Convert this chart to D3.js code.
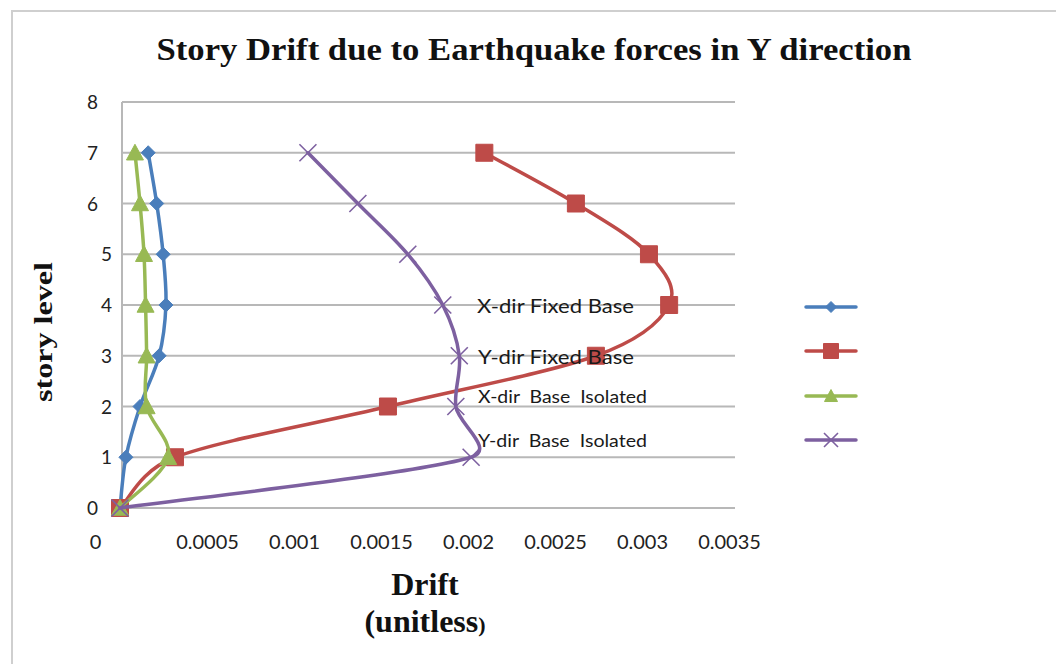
<!DOCTYPE html>
<html>
<head>
<meta charset="utf-8">
<script src="https://cdn.jsdelivr.net/npm/d3@7"></script>
<style>
  html, body { margin: 0; padding: 0; background: #fff; }
  svg { display: block; }
</style>
</head>
<body>
<svg id="chart" width="1056" height="664"></svg>
<script>
// ---- data ----
const storyLevels = [0, 1, 2, 3, 4, 5, 6, 7];
const xDirFixed    = [0, 0.000034, 0.000115, 0.000225, 0.000264, 0.000248, 0.000211, 0.000162];
const yDirFixed    = [0, 0.000316, 0.00154, 0.002735, 0.003156, 0.00304, 0.00262, 0.002094];
const xDirIsolated = [0, 0.000277, 0.000153, 0.000153, 0.000147, 0.000138, 0.000115, 0.000086];
const yDirIsolated = [0, 0.002018, 0.00193, 0.00195, 0.001855, 0.001654, 0.001367, 0.00108];
const seriesNames  = ["X-dir Fixed Base", "Y-dir Fixed Base", "X-dir  Base  Isolated", "Y-dir  Base  Isolated"];
const xTickValues  = [0, 0.0005, 0.001, 0.0015, 0.002, 0.0025, 0.003, 0.0035];
const yTickValues  = [0, 1, 2, 3, 4, 5, 6, 7, 8];
const titleText    = "Story Drift due to Earthquake forces in Y direction";

const series = [
  { name: seriesNames[0], values: xDirFixed,    color: "#4A7EBB", marker: "diamond" },
  { name: seriesNames[1], values: yDirFixed,    color: "#BE4B48", marker: "square" },
  { name: seriesNames[2], values: xDirIsolated, color: "#98B954", marker: "triangle" },
  { name: seriesNames[3], values: yDirIsolated, color: "#7D60A0", marker: "cross" }
];

// Spreadsheet-style smoothed curve: Catmull-Rom tangents with arm lengths
// limited to half of the adjacent segment.
function SmoothCurve(context) { this._context = context; }
SmoothCurve.prototype = {
  areaStart() { this._line = 0; },
  areaEnd() { this._line = NaN; },
  lineStart() { this._pts = []; },
  point(px, py) { this._pts.push([+px, +py]); },
  lineEnd() {
    const p = this._pts, n = p.length, c = this._context;
    if (!n) return;
    c.moveTo(p[0][0], p[0][1]);
    if (n === 1) return;
    const tan = p.map((pt, i) => {
      const a = p[Math.max(0, i - 1)], b = p[Math.min(n - 1, i + 1)];
      return [(b[0] - a[0]) / 6, (b[1] - a[1]) / 6];
    });
    const k = 0.5;
    const arm = (t, segLen) => {
      const L = Math.hypot(t[0], t[1]);
      const s = (L > k * segLen && L > 0) ? (k * segLen) / L : 1;
      return [t[0] * s, t[1] * s];
    };
    for (let i = 0; i < n - 1; i++) {
      const a = p[i], b = p[i + 1];
      const seg = Math.hypot(b[0] - a[0], b[1] - a[1]);
      const t1 = arm(tan[i], seg), t2 = arm(tan[i + 1], seg);
      c.bezierCurveTo(a[0] + t1[0], a[1] + t1[1], b[0] - t2[0], b[1] - t2[1], b[0], b[1]);
    }
  }
};
const curveSmooth = context => new SmoothCurve(context);

const svg = d3.select("#chart");
svg.append("rect").attr("width", 1056).attr("height", 664).attr("fill", "#fff");

// outer chart border
svg.append("path")
  .attr("d", "M12,664 V11 H1056")
  .attr("fill", "none").attr("stroke", "#cfcfcf").attr("stroke-width", 2);

const x = d3.scaleLinear().domain([0, 0.0035]).range([120, 729]);
const y = d3.scaleLinear().domain([0, 8]).range([508, 102]);
const gridLeft = 122, gridRight = 735;

// gridlines
svg.append("g").selectAll("line").data(yTickValues).join("line")
  .attr("x1", gridLeft).attr("x2", gridRight)
  .attr("y1", d => y(d)).attr("y2", d => y(d))
  .attr("stroke", "#b8b8b8").attr("stroke-width", 2);
// vertical axis line
svg.append("line")
  .attr("x1", gridLeft).attr("x2", gridLeft)
  .attr("y1", y(8)).attr("y2", y(0))
  .attr("stroke", "#b8b8b8").attr("stroke-width", 2);

// y axis labels
const yAxis = d3.axisLeft(y).tickValues(yTickValues).tickSize(0).tickFormat(d3.format("d"));
const gy = svg.append("g").call(yAxis);
gy.select(".domain").remove();
gy.selectAll("text")
  .attr("x", d => (d >= 1 && d <= 5) ? 112 : 98)
  .attr("dy", "0.35em")
  .attr("text-anchor", "end")
  .style("font-family", "Lato, 'Noto Sans', sans-serif")
  .style("font-size", "19px")
  .attr("fill", "#222");

// x axis labels
const xAxis = d3.axisBottom(x).tickValues(xTickValues).tickSize(0)
  .tickFormat(d => String(+d.toFixed(4)));
const gx = svg.append("g").call(xAxis);
gx.select(".domain").remove();
gx.selectAll("text")
  .attr("y", 549).attr("dy", 0)
  .attr("dx", d => d === 0 ? -25 : 0)
  .attr("text-anchor", "middle")
  .style("font-family", "Lato, 'Noto Sans', sans-serif")
  .style("font-size", "20px")
  .attr("fill", "#222");

// lines
const line = d3.line()
  .x(d => x(d.v)).y(d => y(d.level))
  .curve(curveSmooth);

function markerPath(type, s) {
  const h = s / 2;
  if (type === "diamond") return `M0,${-h}L${h},0L0,${h}L${-h},0Z`;
  if (type === "square") return `M${-h},${-h}H${h}V${h}H${-h}Z`;
  if (type === "triangle") return `M0,${-h}L${h},${h * 0.85}L${-h},${h * 0.85}Z`;
  if (type === "cross") return `M${-h},${-h}L${h},${h}M${h},${-h}L${-h},${h}`;
}
const markerSize = { diamond: 14, square: 17, triangle: 17, cross: 17 };

series.forEach(s => {
  const pts = storyLevels.map((lv, i) => ({ level: lv, v: s.values[i] }));
  const g = svg.append("g");
  g.append("path").datum(pts)
    .attr("d", line)
    .attr("fill", "none").attr("stroke", s.color)
    .attr("stroke-width", 3.5).attr("stroke-linejoin", "round").attr("stroke-linecap", "round");
  g.selectAll("path.m").data(pts).join("path").attr("class", "m")
    .attr("transform", d => `translate(${x(d.v)},${y(d.level)})`)
    .attr("d", markerPath(s.marker, markerSize[s.marker]))
    .attr("fill", s.marker === "cross" ? "none" : s.color)
    .attr("stroke", s.color)
    .attr("stroke-width", s.marker === "cross" ? 1.6 : 1);
});

// in-plot series labels
const labelPos = [
  { x: 477, y: 313, len: 157, size: 20 },
  { x: 478, y: 364, len: 156, size: 20 },
  { x: 478, y: 403, len: 169, size: 18 },
  { x: 478, y: 447, len: 169, size: 18 }
];
svg.append("g").selectAll("text").data(seriesNames).join("text")
  .attr("x", (d, i) => labelPos[i].x).attr("y", (d, i) => labelPos[i].y)
  .attr("textLength", (d, i) => labelPos[i].len)
  .attr("lengthAdjust", "spacingAndGlyphs")
  .style("font-family", "Lato, 'Noto Sans', sans-serif")
  .style("font-size", (d, i) => labelPos[i].size + "px")
  .style("white-space", "pre")
  .attr("fill", "#1a1a1a")
  .text(d => d);

// legend (symbols only)
const legendY = [307, 351, 396, 440];
const lg = svg.append("g");
series.forEach((s, i) => {
  lg.append("line")
    .attr("x1", 806).attr("x2", 856).attr("y1", legendY[i]).attr("y2", legendY[i])
    .attr("stroke", s.color).attr("stroke-width", 3.5).attr("stroke-linecap", "round");
  const ls = { diamond: 11, square: 15, triangle: 13, cross: 14 }[s.marker];
  lg.append("path")
    .attr("transform", `translate(831,${legendY[i]})`)
    .attr("d", markerPath(s.marker, ls))
    .attr("fill", s.marker === "cross" ? "none" : s.color)
    .attr("stroke", s.color)
    .attr("stroke-width", s.marker === "cross" ? 1.6 : 1);
});

// title
svg.append("text")
  .attr("x", 534).attr("y", 60)
  .attr("text-anchor", "middle")
  .attr("textLength", 755).attr("lengthAdjust", "spacingAndGlyphs")
  .style("font-family", "'Liberation Serif', 'Times New Roman', serif")
  .style("font-weight", "bold").style("font-size", "31px")
  .attr("fill", "#111")
  .text(titleText);

// y-axis title
svg.append("text")
  .attr("transform", "translate(52,332) rotate(-90)")
  .attr("text-anchor", "middle")
  .attr("textLength", 140).attr("lengthAdjust", "spacingAndGlyphs")
  .style("font-family", "'Liberation Serif', 'Times New Roman', serif")
  .style("font-weight", "bold").style("font-size", "25px")
  .attr("fill", "#111")
  .text("story level");

// x-axis title
const xt = svg.append("text")
  .attr("text-anchor", "middle")
  .style("font-family", "'Liberation Serif', 'Times New Roman', serif")
  .style("font-weight", "bold").style("font-size", "32px")
  .attr("fill", "#111");
xt.append("tspan").attr("x", 425).attr("y", 595).text("Drift");
const t2 = xt.append("tspan").attr("x", 425).attr("y", 632);
t2.append("tspan").text("(unitless");
t2.append("tspan").style("font-size", "22px").text(")");
</script>
</body>
</html>
